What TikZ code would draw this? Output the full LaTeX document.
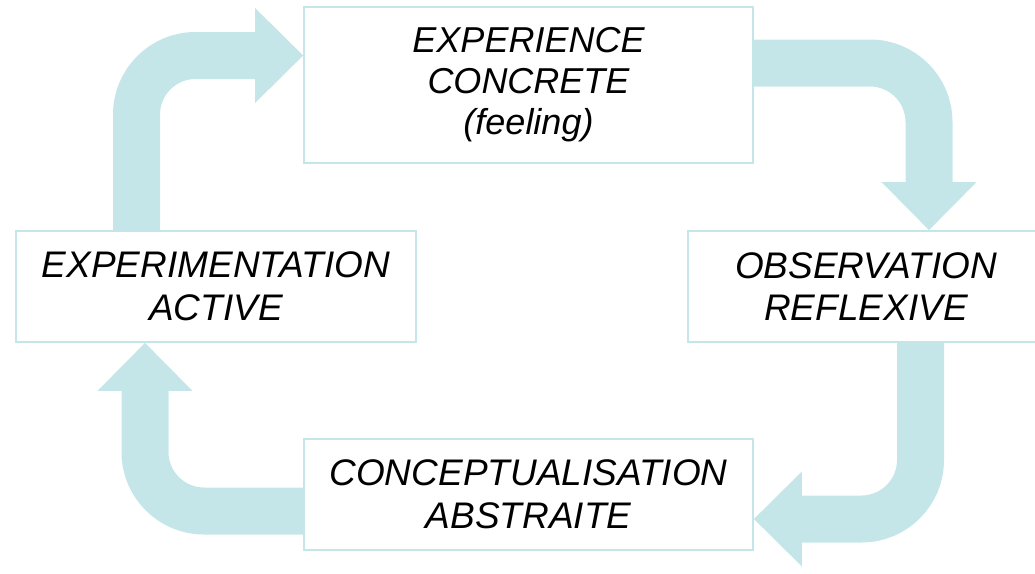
\documentclass[tikz,border=0pt]{standalone}
\usepackage{fontspec}
\setmainfont{Liberation Sans}
\usetikzlibrary{arrows.meta,backgrounds}
\definecolor{cyclecol}{RGB}{196,230,232}
\begin{document}
\begin{tikzpicture}[x=1pt,y=-1pt,
  box/.style={draw=cyclecol, line width=1.8pt, fill=white, rectangle, inner sep=0pt,
    align=center, font=\fontsize{37}{42.5}\selectfont\itshape},
  loop/.style={draw=cyclecol, line width=47pt, rounded corners=59pt,
    -{Triangle[width=95pt,length=48pt,line width=0pt]}}
]
\useasboundingbox (0,0) rectangle (1035,573);
\node[box, minimum width=449pt, minimum height=156pt, font=\fontsize{36}{41}\selectfont\itshape] (ec) at (528.5,85) {EXPERIENCE\\CONCRETE\\(feeling)};
\node[box, minimum width=356pt, minimum height=111pt] (or) at (866,286.5) {OBSERVATION\\REFLEXIVE};
\node[box, minimum width=449pt, minimum height=111pt] (ca) at (528.5,494.5) {CONCEPTUALISATION\\ABSTRAITE};
\node[box, minimum width=400pt, minimum height=111pt] (ea) at (216,286.5) {EXPERIMENTATION\\ACTIVE};
\coordinate (c1) at (136.5,55.5);
\coordinate (c2) at (929,63);
\coordinate (c3) at (920.5,519);
\coordinate (c4) at (145,511);
\begin{scope}[on background layer]
\draw[loop] (ea.north -| c1) -- (c1) -- (ec.west |- c1);
\draw[loop] (ec.east |- c2) -- (c2) -- (or.north -| c2);
\draw[loop] (or.south -| c3) -- (c3) -- (ca.east |- c3);
\draw[loop] (ca.west |- c4) -- (c4) -- (ea.south -| c4);
\end{scope}
\end{tikzpicture}
\end{document}
